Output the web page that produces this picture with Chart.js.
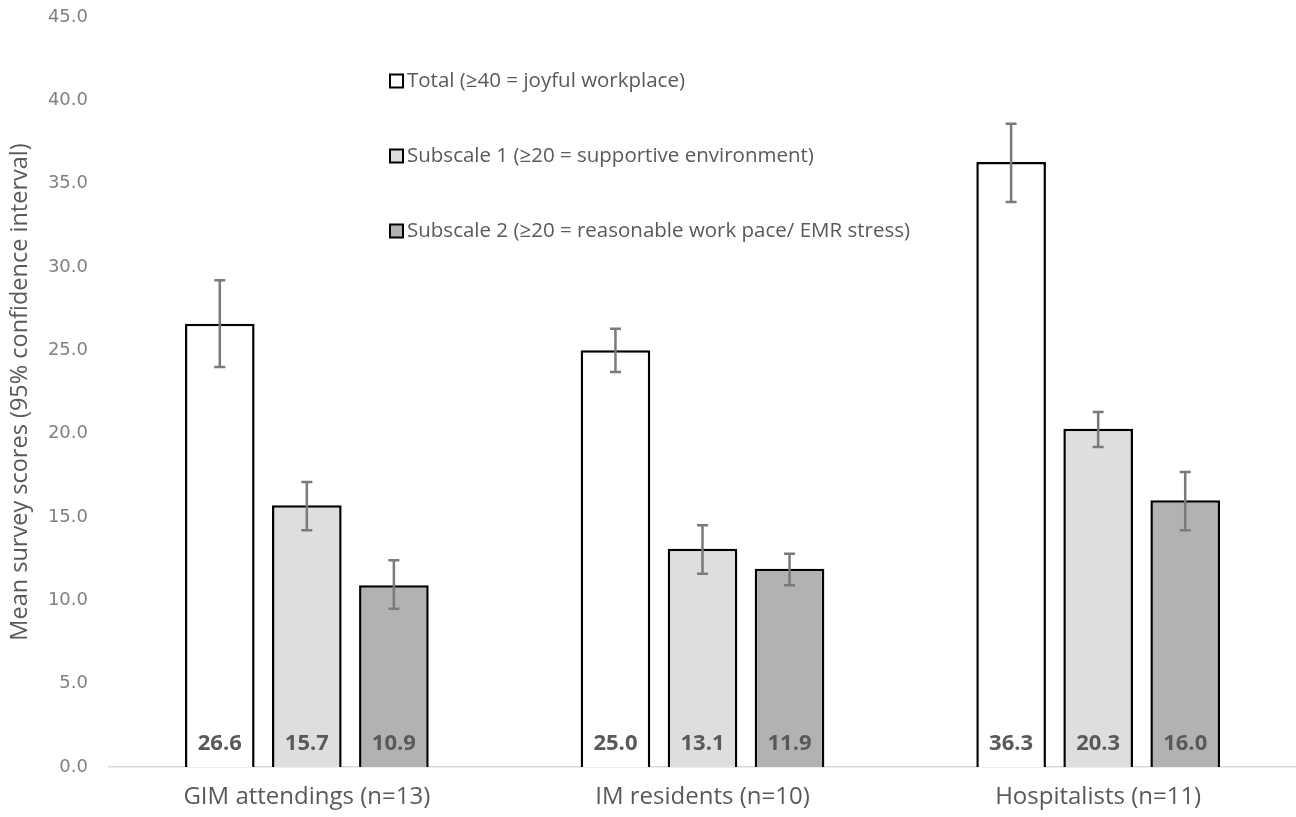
<!DOCTYPE html>
<html>
<head>
<meta charset="utf-8">
<script src="https://cdn.jsdelivr.net/npm/chart.js@4"></script>
<style>
  html, body { margin: 0; padding: 0; background: #ffffff; }
  #wrap { width: 1296px; height: 817px; position: relative; }
</style>
</head>
<body>
<div id="wrap"><canvas id="joy-chart"></canvas></div>
<script>
(function () {
  var categories = ['GIM attendings (n=13)', 'IM residents (n=10)', 'Hospitalists (n=11)'];
  var seriesNames = [
    'Total (\u226540 = joyful workplace)',
    'Subscale 1 (\u226520 = supportive environment)',
    'Subscale 2 (\u226520 = reasonable work pace/ EMR stress)'
  ];
  var totalValues = [26.6, 25.0, 36.3];
  var sub1Values = [15.7, 13.1, 20.3];
  var sub2Values = [10.9, 11.9, 16.0];
  var totalLow = [24.0, 23.7, 33.9];
  var totalHigh = [29.2, 26.3, 38.6];
  var sub1Low = [14.2, 11.6, 19.2];
  var sub1High = [17.1, 14.5, 21.3];
  var sub2Low = [9.5, 10.9, 14.2];
  var sub2High = [12.4, 12.8, 17.7];
  var yTicks = [0, 5, 10, 15, 20, 25, 30, 35, 40, 45];

  var fills = ['#ffffff', '#dedede', '#b2b2b2'];
  var textGrey = '#595959';
  var tickGrey = '#808080';
  var errGrey = '#7a7a7a';

  var lows = [totalLow, sub1Low, sub2Low];
  var highs = [totalHigh, sub1High, sub2High];

  // error bars from the CI arrays, plus value labels at the bar base
  var extras = {
    id: 'extras',
    afterDatasetsDraw: function (chart) {
      var ctx = chart.ctx;
      var y = chart.scales.y;
      ctx.save();
      chart.data.datasets.forEach(function (ds, di) {
        var meta = chart.getDatasetMeta(di);
        meta.data.forEach(function (bar, i) {
          var x = bar.x;
          var top = y.getPixelForValue(highs[di][i]);
          var bot = y.getPixelForValue(lows[di][i]);
          ctx.strokeStyle = errGrey;
          ctx.lineWidth = 2.5;
          ctx.beginPath();
          ctx.moveTo(x, top); ctx.lineTo(x, bot);
          ctx.moveTo(x - 5.5, top); ctx.lineTo(x + 5.5, top);
          ctx.moveTo(x - 5.5, bot); ctx.lineTo(x + 5.5, bot);
          ctx.stroke();

          ctx.fillStyle = textGrey;
          ctx.font = 'bold 22px "Open Sans", sans-serif';
          ctx.textAlign = 'center';
          ctx.textBaseline = 'middle';
          ctx.fillText(ds.data[i].toFixed(1), x, y.getPixelForValue(0) - 23);
        });
      });

      // legend inside the plot
      ctx.font = '20.5px "Open Sans", sans-serif';
      ctx.textAlign = 'left';
      ctx.textBaseline = 'middle';
      seriesNames.forEach(function (name, k) {
        var cy = 81 + k * 75;
        ctx.fillStyle = fills[k];
        ctx.fillRect(390, cy - 6.5, 13, 13);
        ctx.strokeStyle = '#000000';
        ctx.lineWidth = 2;
        ctx.strokeRect(390, cy - 6.5, 13, 13);
        ctx.fillStyle = textGrey;
        ctx.fillText(name, 407, cy);
      });
      ctx.restore();
    }
  };

  function makeSet(label, data, k) {
    return {
      label: label,
      data: data,
      backgroundColor: fills[k],
      borderColor: '#000000',
      borderWidth: 2.5,
      borderSkipped: 'bottom',
      categoryPercentage: 0.66,
      barPercentage: 0.8
    };
  }

  new Chart(document.getElementById('joy-chart'), {
    type: 'bar',
    data: {
      labels: categories,
      datasets: [
        makeSet(seriesNames[0], totalValues, 0),
        makeSet(seriesNames[1], sub1Values, 1),
        makeSet(seriesNames[2], sub2Values, 2)
      ]
    },
    options: {
      responsive: true,
      maintainAspectRatio: false,
      animation: false,
      layout: { padding: { top: 17, right: 0, bottom: 0, left: 0 } },
      plugins: {
        legend: { display: false },
        tooltip: { enabled: false }
      },
      scales: {
        x: {
          grid: { display: false, drawTicks: false },
          border: { color: '#d9d9d9', width: 1.5 },
          ticks: {
            color: textGrey,
            padding: 16,
            font: { family: '"Open Sans", sans-serif', size: 24 }
          },
          afterFit: function (scale) {
            scale.height = 50;
            scale.paddingLeft = 0;
            scale.paddingRight = 0;
          }
        },
        y: {
          min: 0,
          max: 45,
          afterBuildTicks: function (scale) {
            scale.ticks = yTicks.map(function (v) { return { value: v }; });
          },
          grid: { display: false, drawTicks: false },
          border: { display: false },
          ticks: {
            color: tickGrey,
            padding: 21,
            font: { family: '"DejaVu Sans", sans-serif', size: 18 },
            callback: function (v) { return Number(v).toFixed(1); }
          },
          title: {
            display: true,
            text: 'Mean survey scores (95% confidence interval)',
            color: textGrey,
            padding: { top: 6, bottom: 0 },
            font: { family: '"Open Sans", sans-serif', size: 23.5 }
          },
          afterFit: function (scale) {
            scale.width = 109;
            scale.paddingTop = 0;
            scale.paddingBottom = 0;
          }
        }
      }
    },
    plugins: [extras]
  });
})();
</script>
</body>
</html>
